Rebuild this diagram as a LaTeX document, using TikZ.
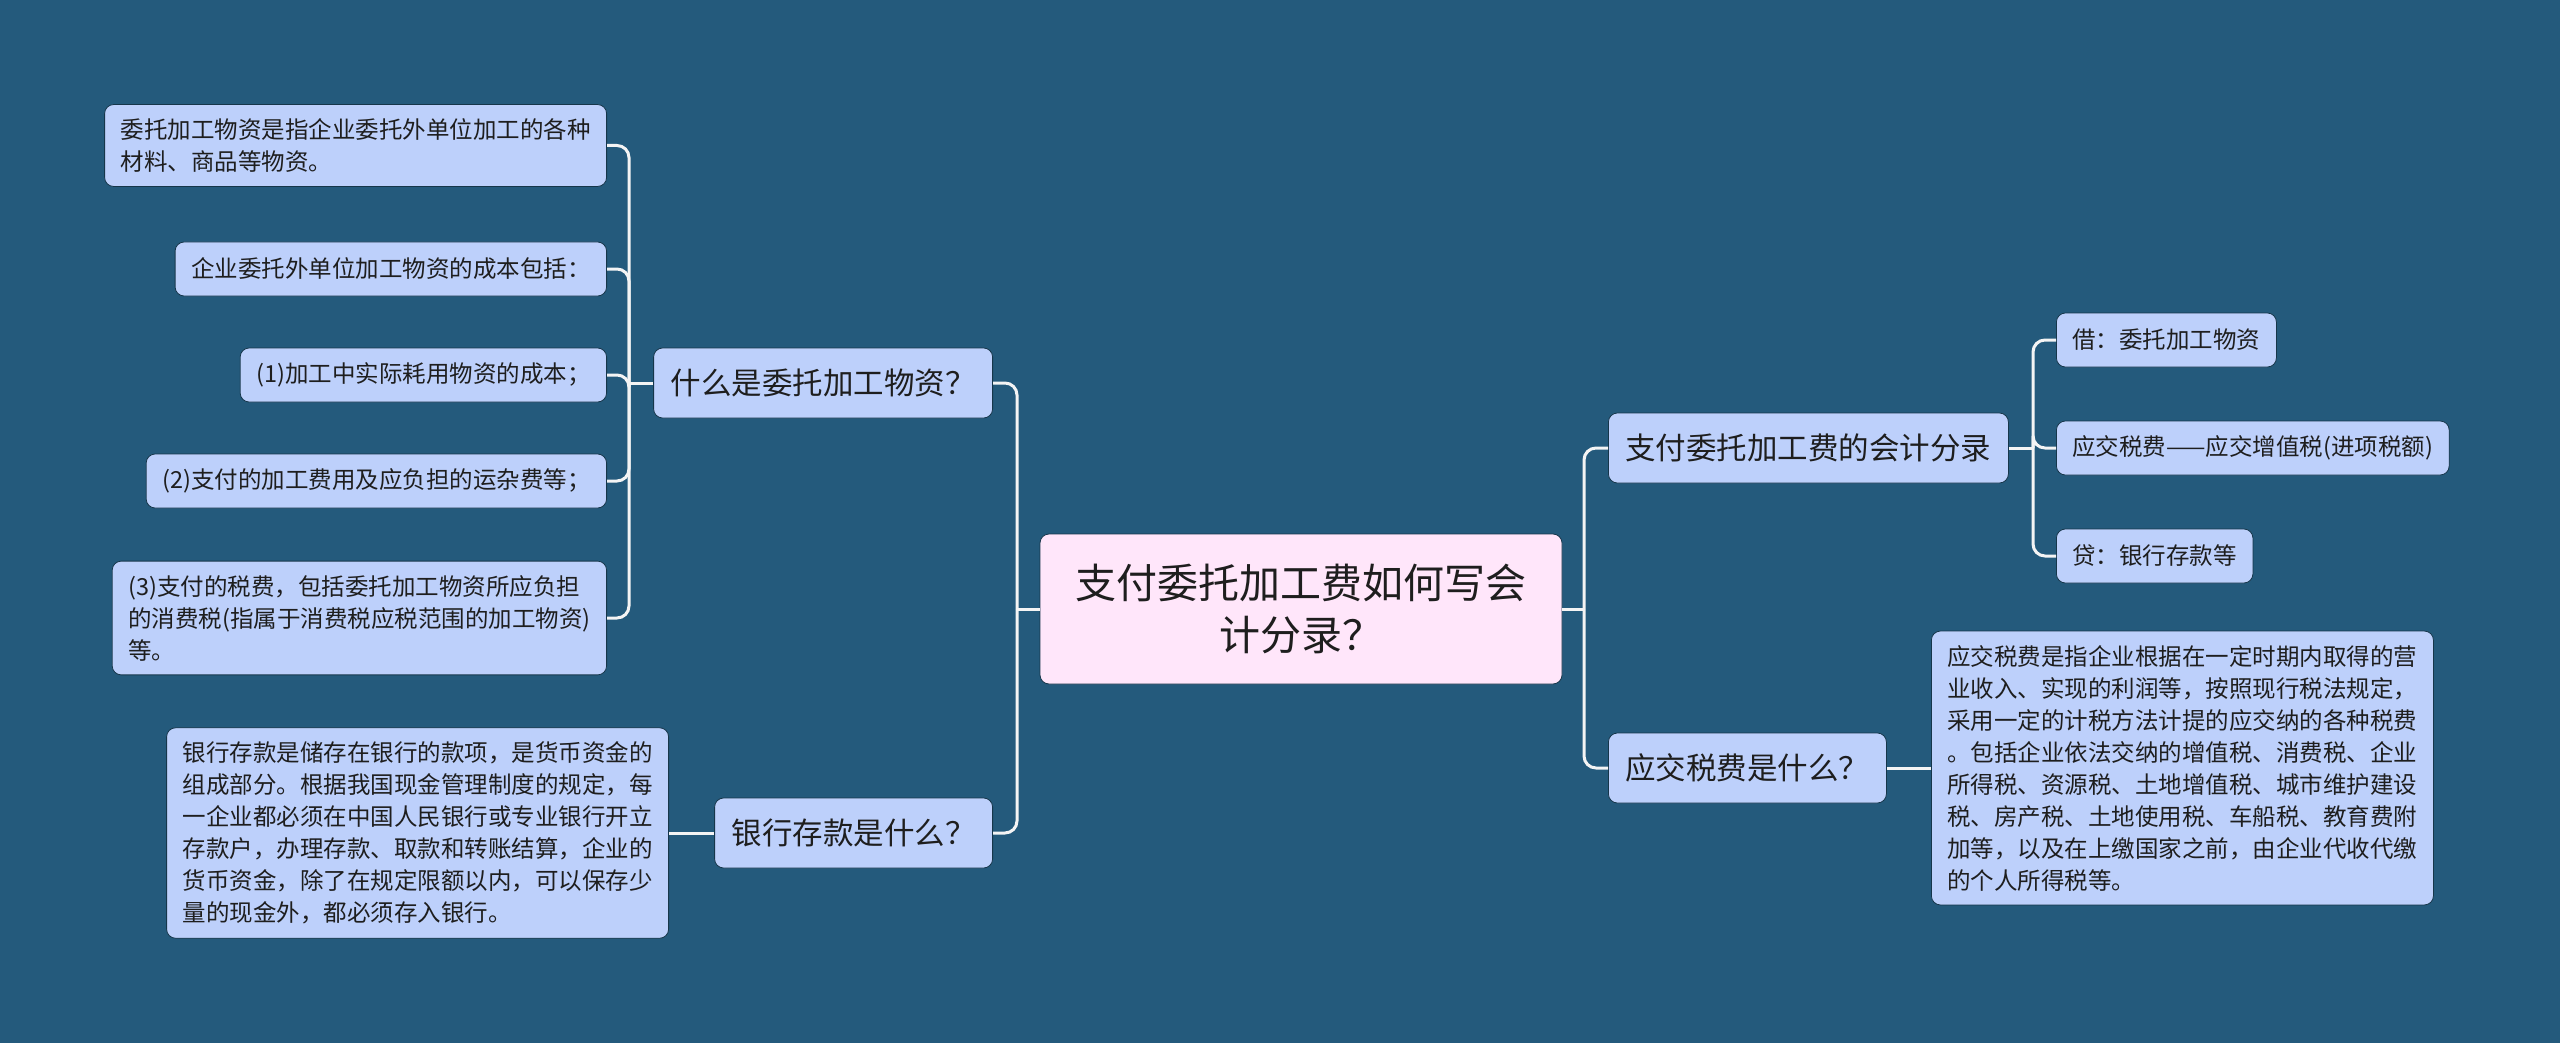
\documentclass[tikz,border=0pt]{standalone}
\usepackage{fontspec}
\newfontfamily\cjk{Noto Sans CJK SC}
\definecolor{bgc}{HTML}{245A7C}
\definecolor{leafc}{HTML}{BDD0FB}
\definecolor{rootc}{HTML}{FFE6FA}
\definecolor{txtc}{HTML}{1E1E1E}
\definecolor{linec}{HTML}{F4F4F4}
\tikzset{
  base/.style={rounded corners=9pt, text=txtc, font=\cjk, draw=bgc!60!black, line width=0.8pt},
  leaf/.style={base, fill=leafc, inner xsep=16pt, inner ysep=14pt, minimum height=54pt, align=left,
     font=\cjk\fontsize{23.5}{32}\selectfont},
  branch/.style={base, fill=leafc, inner xsep=17pt, minimum height=70pt,
     font=\cjk\fontsize{30.5}{36}\selectfont},
  rootbox/.style={base, fill=rootc, minimum width=522pt, minimum height=150pt, align=center,
     font=\cjk\fontsize{41}{52}\selectfont},
  conn/.style={draw=linec, line width=3pt, rounded corners=12pt}
}
\begin{document}
\begin{tikzpicture}[x=1pt,y=1pt]
\fill[bgc] (0,0) rectangle (2560,-1043);
\useasboundingbox (0,0) rectangle (2560,-1043);

\node[rootbox] (root) at (1301,-609) {支付委托加工费如何写会\\计分录？};

\node[branch, anchor=east] (b1) at (993,-383) {什么是委托加工物资？};
\node[branch, anchor=east] (b2) at (993,-833) {银行存款是什么？};
\node[branch, anchor=west] (r1) at (1608,-448) {支付委托加工费的会计分录};
\node[branch, anchor=west] (r2) at (1608,-768) {应交税费是什么？};

\node[leaf, anchor=east] (l1) at (607,-145.5) {委托加工物资是指企业委托外单位加工的各种\\材料、商品等物资。};
\node[leaf, anchor=east] (l2) at (607,-269) {企业委托外单位加工物资的成本包括：};
\node[leaf, anchor=east] (l3) at (607,-375) {(1)加工中实际耗用物资的成本；};
\node[leaf, anchor=east] (l4) at (607,-481) {(2)支付的加工费用及应负担的运杂费等；};
\node[leaf, anchor=east] (l5) at (607,-618) {(3)支付的税费，包括委托加工物资所应负担\\的消费税(指属于消费税应税范围的加工物资)\\等。};
\node[leaf, anchor=east] (l6) at (669,-833) {银行存款是储存在银行的款项，是货币资金的\\组成部分。根据我国现金管理制度的规定，每\\一企业都必须在中国人民银行或专业银行开立\\存款户，办理存款、取款和转账结算，企业的\\货币资金，除了在规定限额以内，可以保存少\\量的现金外，都必须存入银行。};

\node[leaf, anchor=west] (q1) at (2056,-340) {借：委托加工物资};
\node[leaf, anchor=west] (q2) at (2056,-448) {应交税费——应交增值税(进项税额)};
\node[leaf, anchor=west] (q3) at (2056,-556) {贷：银行存款等};
\node[leaf, anchor=west] (q4) at (1931,-768) {应交税费是指企业根据在一定时期内取得的营\\业收入、实现的利润等，按照现行税法规定，\\采用一定的计税方法计提的应交纳的各种税费\\。包括企业依法交纳的增值税、消费税、企业\\所得税、资源税、土地增值税、城市维护建设\\税、房产税、土地使用税、车船税、教育费附\\加等，以及在上缴国家之前，由企业代收代缴\\的个人所得税等。};

\coordinate (jl) at (1017,-609);
\coordinate (jr) at (1584,-609);
\coordinate (jb1) at (629,-383);
\coordinate (jr1) at (2033,-448);

\draw[conn] (root.west) -- (jl);
\draw[conn] (jl) |- (b1.east);
\draw[conn] (jl) |- (b2.east);
\draw[conn] (root.east) -- (jr);
\draw[conn] (jr) |- (r1.west);
\draw[conn] (jr) |- (r2.west);
\draw[conn] (b1.west) -- (jb1);
\foreach \n in {l1,l2,l3,l4,l5} {\draw[conn] (jb1) |- (\n.east);}
\draw[conn] (b2.west) -- (l6.east);
\draw[conn] (r1.east) -- (jr1);
\foreach \n in {q1,q2,q3} {\draw[conn] (jr1) |- (\n.west);}
\draw[conn] (r2.east) -- (q4.west);
\end{tikzpicture}
\end{document}
